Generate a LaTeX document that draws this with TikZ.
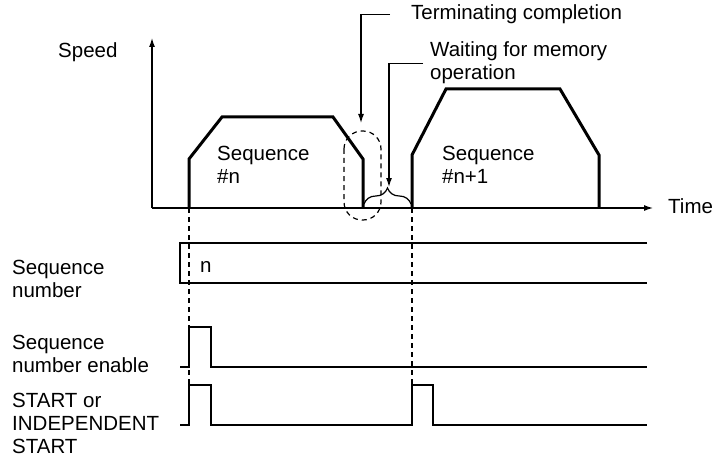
\documentclass[tikz,border=0pt]{standalone}
\usepackage{fontspec}
\setmainfont{Liberation Sans}
\usetikzlibrary{arrows.meta,decorations.pathreplacing}
\tikzset{
  lbl/.style={font=\fontsize{20.5}{23}\selectfont, anchor=base west, inner sep=0pt, align=left},
  profile/.style={line width=3pt},
  signal/.style={line width=2.5pt},
  thinline/.style={line width=1.2pt},
  dashline/.style={line width=1.2pt, dash pattern=on 5pt off 4pt},
  leader/.style={line width=1.2pt, -{Latex[length=9pt,width=6pt]}}
}
\begin{document}
\begin{tikzpicture}[x=1pt,y=-1pt]
        \useasboundingbox (0, 0) rectangle (716, 460);
        \draw[dashline](189, 208) -- (189, 385);
        \draw[dashline](412, 208) -- (412, 385);
        \draw[thinline, -{Latex[length=9pt,width=6pt]}](152, 208) -- (653, 208);
        \draw[thinline, -{Latex[length=9pt,width=6pt]}](152, 208) -- (152, 38);
        \draw[profile](189, 208) -- (189, 159) -- (222, 117) -- (333, 117) -- (363, 159) -- (363, 208);
        \draw[profile](412, 208) -- (412, 155) -- (446, 89) -- (560, 89) -- (599, 155) -- (599, 208);
        \draw[dashline, rounded corners=18pt](344, 131) rectangle (381, 220);
        \draw[thinline, decorate, decoration={brace, amplitude=16pt}](364, 204) -- (411, 204);
        \draw[thinline](647, 243) -- (180, 243) -- (180, 283) -- (647, 283);
        \draw[signal](180, 367) -- (189, 367) -- (189, 327) -- (211, 327) -- (211, 367) -- (647, 367);
        \draw[signal](180, 425) -- (189, 425) -- (189, 385) -- (211, 385) -- (211, 425) -- (412, 425) -- (412, 385) -- (433, 385) -- (433, 425) -- (647, 425);
        \node[lbl] (speed) at (58, 58) {Speed};
        \node[lbl] (time) at (668, 213) {Time};
        \node[lbl] (seqa) at (217, 183) {Sequence\\\#n};
        \node[lbl] (seqb) at (442, 183) {Sequence\\\#n+1};
        \node[lbl] (termtxt) at (411, 20) {Terminating completion};
        \node[lbl] (waittxt) at (430, 80) {Waiting for memory\\operation};
        \node[lbl] (seqno) at (200, 272) {n};
        \node[lbl] (seqnum) at (12, 297) {Sequence\\number};
        \node[lbl] (seqen) at (12, 372) {Sequence\\number enable};
        \node[lbl] (start) at (12, 453) {START or\\INDEPENDENT\\START};
        \coordinate (termtip) at (361, 123);
        \coordinate (waittip) at (389, 187);
        \draw[leader]([xshift=-21pt]termtxt.west) -| (termtip);
        \draw[leader]([xshift=-7pt]waittxt.west) -| (waittip);
    \end{tikzpicture}
\end{document}
